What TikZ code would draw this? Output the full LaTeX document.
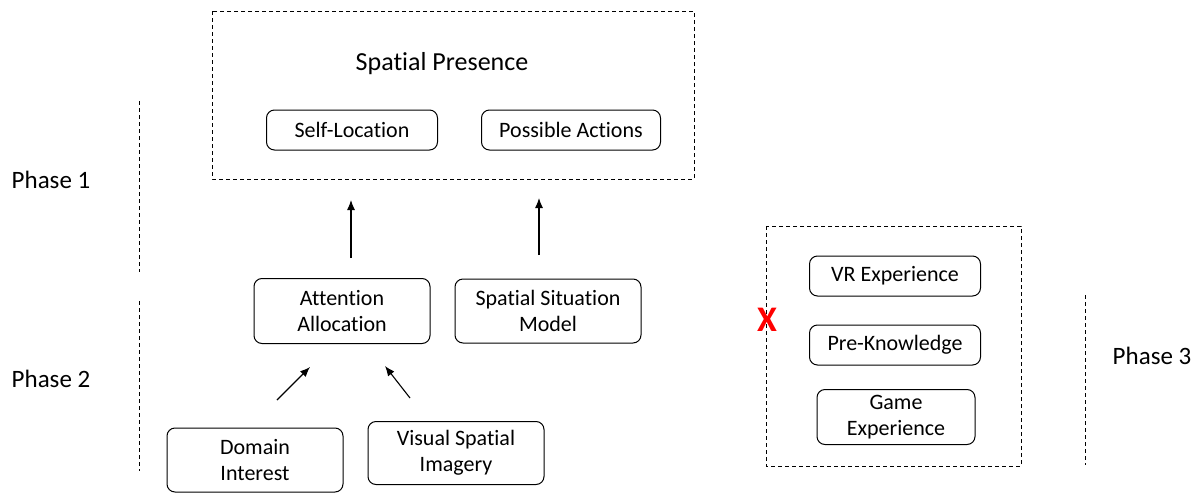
\documentclass[tikz,border=0pt]{standalone}
\usepackage{fontspec}
\setmainfont[Ligatures=NoCommon]{Carlito}
\usetikzlibrary{positioning}
\usetikzlibrary{arrows.meta}

\tikzset{
  rbox/.style={draw, rounded corners=8pt, line width=1pt, align=center,
    font=\fontsize{22}{26}\selectfont, inner sep=0pt},
  dashbox/.style={draw, dashed, line width=0.9pt, dash pattern=on 4pt off 3pt},
  phaseline/.style={draw, dashed, line width=0.9pt, dash pattern=on 4pt off 3pt},
  uparrow/.style={-{Latex[length=10pt,width=8pt]}, line width=1.1pt},
  phaselabel/.style={font=\fontsize{25}{28}\selectfont},
}

\begin{document}
\begin{tikzpicture}[x=1pt, y=-1pt]
\useasboundingbox (0,0) rectangle (1203,493);

% phase separators
\draw[phaseline] (139,101) -- (139,272);
\draw[phaseline] (139,301) -- (139,471);
\draw[phaseline] (1085,295) -- (1085,465);

\node[phaselabel] (ph1) at (51,180) {Phase 1};
\node[phaselabel] (ph2) at (51,379) {Phase 2};
\node[phaselabel] (ph3) at (1152,356) {Phase 3};

% spatial presence
\draw[dashbox] (212,11) rectangle (694,179);
\node[font=\fontsize{26}{28}\selectfont] (sp) at (442,64) {Spatial Presence};
\node[rbox, minimum width=171pt, minimum height=40pt] (self) at (352,130) {Self-Location};
\node[rbox, minimum width=179pt, minimum height=40pt] (poss) at (571,130) {Possible Actions};

% phase 2
\node[rbox, minimum width=176pt, minimum height=65pt] (att) at (342,311) {Attention\\Allocation};
\node[rbox, minimum width=186pt, minimum height=64pt] (ssm) at (548,311) {Spatial Situation\\Model};
\node[rbox, minimum width=176pt, minimum height=64pt] (dom) at (255,460) {Domain\\Interest};
\node[rbox, minimum width=176pt, minimum height=63pt] (vis) at (456,453) {Visual Spatial\\Imagery};

\coordinate (a1s) at (351,258);
\coordinate (a1e) at (351,200);
\coordinate (a2s) at (539,255);
\coordinate (a2e) at (539,198);
\coordinate (a3s) at (277,400);
\coordinate (a3e) at (310,367);
\coordinate (a4s) at (410,398);
\coordinate (a4e) at (385,366);
\draw[uparrow] (a1s) -- (a1e);
\draw[uparrow] (a2s) -- (a2e);
\draw[uparrow] (a3s) -- (a3e);
\draw[uparrow] (a4s) -- (a4e);

% phase 3
\draw[dashbox] (766,226) rectangle (1021,466);
\node[rbox, minimum width=171pt, minimum height=40pt] (vr) at (895,276) {VR Experience};
\node[rbox, minimum width=171pt, minimum height=40pt] (pre) at (895,345) {Pre-Knowledge};
\node[rbox, minimum width=158pt, minimum height=55pt] (game) at (896,417) {Game\\Experience};
\node[text=red, font=\fontsize{36}{38}\bfseries] (cross) at (767,320) {X};
\end{tikzpicture}
\end{document}
